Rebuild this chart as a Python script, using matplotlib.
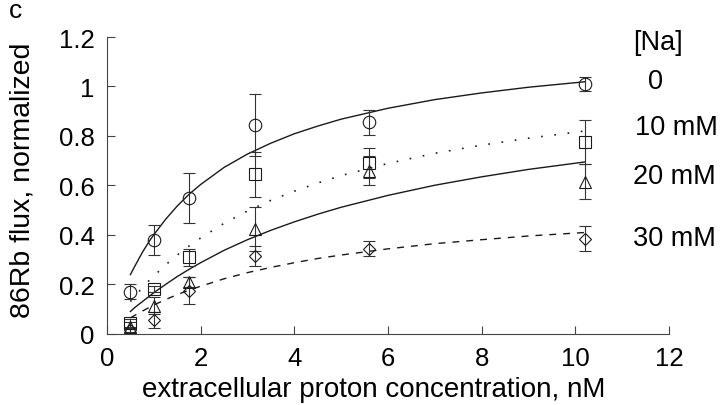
import numpy as np
import matplotlib
matplotlib.use("Agg")
import matplotlib.pyplot as plt
from matplotlib.ticker import FuncFormatter

plt.rcParams['font.family'] = ['Liberation Sans', 'DejaVu Sans']

# ----------------- Data -----------------

# extracellular proton concentration, nM
proton = [0.5, 1.0, 1.75, 3.16, 5.6, 10.2]

# normalized 86Rb flux and error bars per [Na]
na0 = [0.17, 0.38, 0.55, 0.845, 0.855, 1.01]
na0_err = [0.03, 0.06, 0.10, 0.125, 0.05, 0.03]
na10 = [0.045, 0.18, 0.31, 0.645, 0.69, 0.775]
na10_err = [0.015, 0.012, 0.035, 0.09, 0.06, 0.09]
na20 = [0.03, 0.115, 0.21, 0.425, 0.66, 0.615]
na20_err = [0.02, 0.035, 0.02, 0.09, 0.06, 0.07]
na30 = [0.015, 0.055, 0.175, 0.315, 0.345, 0.385]
na30_err = [0.01, 0.032, 0.055, 0.04, 0.03, 0.05]

# fitted curves
fit_x = [0.5, 0.6, 0.75, 0.9, 1, 1.25, 1.5, 1.75, 2, 2.5, 3, 3.5, 4, 4.5, 5, 6, 7, 8, 9, 10.2]
fit0 = [0.240, 0.276, 0.328, 0.374, 0.401, 0.463, 0.517, 0.564, 0.604, 0.673, 0.727,
        0.771, 0.809, 0.840, 0.868, 0.912, 0.947, 0.974, 0.997, 1.019]
fit10 = [0.131, 0.153, 0.186, 0.216, 0.234, 0.279, 0.319, 0.355, 0.388, 0.447, 0.497,
         0.540, 0.577, 0.610, 0.640, 0.689, 0.730, 0.763, 0.791, 0.820]
fit20 = [0.091, 0.108, 0.130, 0.152, 0.167, 0.200, 0.232, 0.261, 0.288, 0.338, 0.381,
         0.419, 0.453, 0.484, 0.512, 0.560, 0.601, 0.635, 0.665, 0.695]
fit30 = [0.065, 0.076, 0.092, 0.107, 0.117, 0.139, 0.159, 0.177, 0.193, 0.223, 0.248,
         0.269, 0.288, 0.305, 0.319, 0.344, 0.365, 0.381, 0.396, 0.410]

labels = ["0", "10 mM", "20 mM", "30 mM"]

# ----------------- Plot -----------------

fig = plt.figure(figsize=(7.2, 4.06), dpi=100)
ax = fig.add_axes([0.1486, 0.1749, 0.929 - 0.1486, 0.9064 - 0.1749])

line_col = "#1a1a1a"
err_col = "#333333"

ax.plot(fit_x, fit0, color=line_col, lw=1.0, linestyle="-")
ax.plot(fit_x, fit10, color=line_col, lw=1.2, linestyle=(0, (1, 7)))
ax.plot(fit_x, fit20, color=line_col, lw=1.0, linestyle="-")
ax.plot(fit_x, fit30, color=line_col, lw=1.0, linestyle=(0, (5, 5)))

series = [(na0, na0_err, "o", 9), (na10, na10_err, "s", 8),
          (na20, na20_err, "^", 8.5), (na30, na30_err, "D", 6.5)]
for vals, errs, mk, ms in series:
    ax.errorbar(proton, vals, yerr=errs, fmt=mk, ms=ms, mfc="none", mec=line_col,
                mew=0.8, ecolor=err_col, elinewidth=0.8, capsize=4, capthick=0.8)

ax.set_xlim(0, 12)
ax.set_ylim(0, 1.2)
ax.set_xticks(np.arange(0, 13, 2))
ax.set_yticks(np.arange(0, 1.21, 0.2))
ax.yaxis.set_major_formatter(FuncFormatter(lambda v, p: f"{v:g}"))

for side in ["top", "right"]:
    ax.spines[side].set_visible(False)
for side in ["left", "bottom"]:
    ax.spines[side].set_color("#444444")
    ax.spines[side].set_linewidth(0.8)

ax.tick_params(direction="in", length=6, width=0.8, color="#444444",
               labelsize=18.5, pad=9)

ax.set_xlabel("extracellular proton concentration, nM", fontsize=20, va="center")
ax.set_ylabel("86Rb flux, normalized", fontsize=20.5, va="center")
ax.xaxis.set_label_coords(0.474, -0.185)
ax.yaxis.set_label_coords(-0.151, 0.522)

# concentration labels on the right
fig.text(0.914, 0.894, "[Na]", fontsize=19.5, ha="center", va="center")
fig.text(0.910, 0.798, labels[0], fontsize=19.5, ha="center", va="center")
fig.text(0.882, 0.685, labels[1], fontsize=19.5, ha="left", va="center")
fig.text(0.879, 0.564, labels[2], fontsize=19.5, ha="left", va="center")
fig.text(0.879, 0.411, labels[3], fontsize=19.5, ha="left", va="center")

fig.text(0.021, 0.972, "c", fontsize=19, ha="center", va="center")

fig.savefig("out.png", dpi=100)
